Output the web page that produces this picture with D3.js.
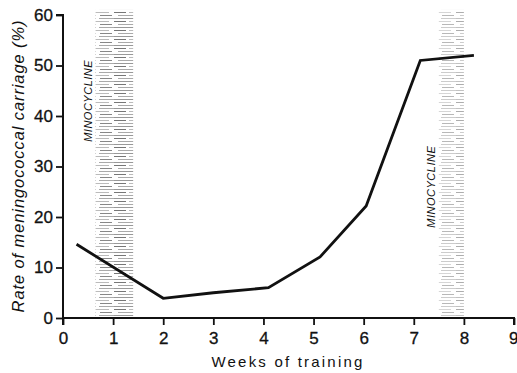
<!DOCTYPE html>
<html>
<head>
<meta charset="utf-8">
<script src="https://cdn.jsdelivr.net/npm/d3@7"></script>
<style>
  body { margin: 0; background: #fff; }
  text { font-family: "Liberation Sans", Arial, sans-serif; fill: #111; }
</style>
</head>
<body>
<svg id="chart" width="517" height="373"></svg>
<script>
// carriage rate by week of training
const weeks = [0.27, 2.0, 3.0, 4.1, 5.13, 6.05, 7.13, 8.2];
const rates = [14.6, 3.9, 5.0, 6.0, 12.1, 22.2, 51.0, 52.0];

// minocycline treatment periods (weeks)
const bandStart = [0.65, 7.5];
const bandEnd = [1.4, 8.0];
const bandLabel = ["MINOCYCLINE", "MINOCYCLINE"];
const bandLabelY = [43, 26];

const xTicks = [0, 1, 2, 3, 4, 5, 6, 7, 8, 9];
const yTicks = [0, 10, 20, 30, 40, 50, 60];

const svg = d3.select("#chart");
const x = d3.scaleLinear().domain([0, 9]).range([63, 514]);
const y = d3.scaleLinear().domain([0, 60]).range([318, 15]);

// hatched texture for the shaded bands
const defs = svg.append("defs");
const pat = defs.append("pattern").attr("id", "hatch")
  .attr("patternUnits", "userSpaceOnUse").attr("width", 38).attr("height", 9);
[[0, 0, 20, "#999"], [23, 0, 15, "#aaa"], [0, 3, 12, "#777"], [15, 3, 18, "#bbb"],
 [4, 6, 16, "#aaa"], [24, 6, 12, "#888"]].forEach(d => {
  pat.append("rect").attr("x", d[0]).attr("y", d[1]).attr("width", d[2]).attr("height", 1).attr("fill", d[3]);
});

const bands = svg.append("g").attr("class", "bands");
bands.selectAll("rect").data(bandStart).enter().append("rect")
  .attr("x", (d) => x(d))
  .attr("width", (d, i) => x(bandEnd[i]) - x(d))
  .attr("y", y(61)).attr("height", y(0) - y(61))
  .attr("fill", "url(#hatch)").attr("opacity", (d, i) => i === 0 ? 1 : 0.6);

bands.selectAll("text").data(bandStart).enter().append("text")
  .attr("transform", (d, i) => `translate(${x(d) - 4},${y(bandLabelY[i])}) rotate(-90)`)
  .attr("text-anchor", "middle")
  .attr("font-size", 11).attr("font-style", "italic")
  .attr("letter-spacing", 0.5)
  .text((d, i) => bandLabel[i]);

// axes
const xAxis = svg.append("g").attr("transform", `translate(0,${y(0)})`)
  .call(d3.axisBottom(x).tickValues(xTicks).tickSize(7).tickPadding(7).tickFormat(d3.format("d")));
const yAxis = svg.append("g").attr("transform", `translate(${x(0)},0)`)
  .call(d3.axisLeft(y).tickValues(yTicks).tickSize(7).tickPadding(3).tickFormat(d3.format("d")));
[xAxis, yAxis].forEach(a => {
  a.select(".domain").attr("stroke", "#111").attr("stroke-width", 2);
  a.selectAll(".tick line").attr("stroke", "#111").attr("stroke-width", 1.8);
  a.selectAll(".tick text").attr("font-size", 17).attr("fill", "#111")
    .attr("stroke", "#111").attr("stroke-width", 0.3)
    .attr("font-family", "'Liberation Sans', Arial, sans-serif");
});
xAxis.select(".domain").attr("d", `M${x(0)},7V0H${x(9)}V7`);
yAxis.select(".domain").attr("d", `M-7,${y(60)}H0V${y(0)}`);
// last label sits against the right edge
xAxis.selectAll(".tick text").filter(d => d === 9).attr("text-anchor", "end").attr("dx", 4);

// carriage line
const pts = weeks.map((w, i) => [w, rates[i]]);
svg.append("path").datum(pts)
  .attr("fill", "none").attr("stroke", "#111").attr("stroke-width", 2.8)
  .attr("stroke-linejoin", "miter")
  .attr("d", d3.line().x(d => x(d[0])).y(d => y(d[1])));

// axis titles
svg.append("text")
  .attr("x", 288).attr("y", 367)
  .attr("text-anchor", "middle").attr("font-size", 15).attr("letter-spacing", 2.2)
  .text("Weeks of training");
svg.append("text")
  .attr("transform", `translate(24,${166}) rotate(-90)`)
  .attr("text-anchor", "middle").attr("font-size", 16.5).attr("font-style", "italic")
  .attr("letter-spacing", 0.9)
  .text("Rate of meningococcal carriage (%)");
</script>
</body>
</html>
